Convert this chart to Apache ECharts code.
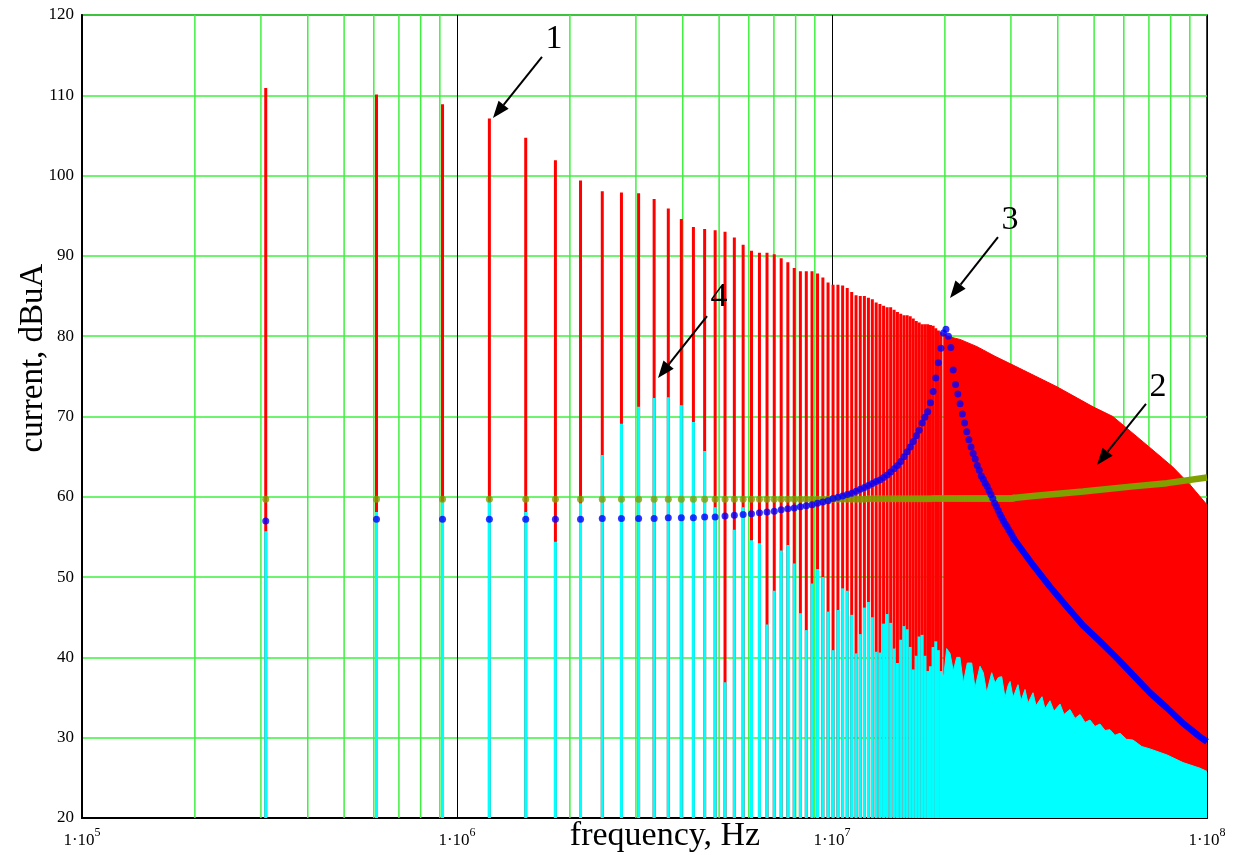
<!DOCTYPE html>
<html><head><meta charset="utf-8">
<script src="https://cdn.jsdelivr.net/npm/echarts@6/dist/echarts.min.js"></script>
<style>html,body{margin:0;padding:0;background:#fff}#c{width:1236px;height:855px}</style>
</head><body><div id="c"></div><script>
// ---------- DATA ----------
// harmonic frequencies, kHz (n = 1..100)
const harmonicKHz = [309,610,915,1220,1525,1830,2135,2440,2745,3050,
 3355,3660,3965,4270,4575,4880,5185,5490,5795,6100,
 6405,6710,7015,7320,7625,7930,8235,8540,8845,9150,
 9455,9760,10065,10370,10675,10980,11285,11590,11895,12200,
 12505,12810,13115,13420,13725,14030,14335,14640,14945,15250,
 15555,15860,16165,16470,16775,17080,17385,17690,17995,18300,
 18605,18910,19215,19520,19825,20130,20435,20740,21045,21350,
 21655,21960,22265,22570,22875,23180,23485,23790,24095,24400,
 24705,25010,25315,25620,25925,26230,26535,26840,27145,27450,
 27755,28060,28365,28670,28975,29280,29585,29890,30195,30500];
// curve 1 (red spectrum), dBuA, n = 1..64
const redLines = [110.9,110.1,108.9,107.1,104.7,101.9,99.4,98.05,97.9,97.8,
 97.1,95.9,94.6,93.6,93.35,93.2,93.0,92.3,91.4,90.65,
 90.4,90.4,90.2,89.7,89.2,88.5,88.1,88.1,88.1,87.8,
 87.3,86.7,86.4,86.4,86.3,86.0,85.5,85.1,85.0,85.0,
 84.8,84.6,84.2,84.0,83.8,83.6,83.6,83.3,83.0,82.8,
 82.6,82.6,82.5,82.2,81.9,81.7,81.5,81.5,81.5,81.4,
 81.3,81.0,80.7,80.5];
// curve 4 (cyan spectrum), dBuA, n = 1..64
const cyanLines = [55.7,58.1,59.4,59.4,58.1,54.4,59.2,65.2,69.1,71.2,
 72.3,72.4,71.4,69.3,65.7,58.7,36.9,55.9,58.7,54.6,
 54.2,44.1,48.3,53.3,54.0,51.7,45.5,43.4,49.2,51.0,
 50.0,45.7,40.9,45.9,48.6,48.3,45.3,40.5,42.9,46.2,
 46.9,45.0,40.7,40.6,44.2,45.4,44.3,41.1,39.3,42.2,
 43.9,43.5,41.3,38.5,40.2,42.6,42.8,40.2,38.3,38.9,
 41.3,42.0,40.9,38.3];
// curve 3 (blue dots), dBuA, n = 1..100
const blueDots = [57.0,57.2,57.2,57.2,57.2,57.2,57.2,57.3,57.3,57.3,
 57.3,57.4,57.4,57.4,57.5,57.5,57.6,57.7,57.8,57.9,
 58.0,58.1,58.2,58.4,58.5,58.6,58.75,58.9,59.0,59.2,
 59.35,59.5,59.8,59.95,60.1,60.3,60.45,60.7,60.95,61.15,
 61.4,61.65,61.9,62.1,62.4,62.7,63.1,63.5,63.9,64.4,
 65.0,65.6,66.2,66.9,67.6,68.3,69.2,69.9,70.6,71.7,
 73.1,74.8,76.7,78.5,80.4,80.85,80.0,78.6,75.8,74.0,
 72.8,71.6,70.3,69.2,68.1,67.1,66.2,65.4,64.7,63.9,
 63.3,62.6,62.2,61.7,61.3,60.8,60.3,59.8,59.2,58.8,
 58.3,57.8,57.4,57.0,56.6,56.3,55.9,55.6,55.2,54.8];
// curve 2 (olive dots), dBuA, n = 1..100
const greenDots = [59.7,59.7,59.7,59.7,59.7,59.7,59.7,59.7,59.7,59.7,
 59.7,59.7,59.7,59.7,59.7,59.7,59.7,59.7,59.7,59.7,
 59.7,59.7,59.7,59.7,59.7,59.7,59.7,59.7,59.7,59.7,
 59.7,59.7,59.7,59.7,59.7,59.7,59.7,59.7,59.7,59.7,
 59.75,59.75,59.75,59.75,59.75,59.75,59.75,59.75,59.75,59.75,
 59.75,59.75,59.75,59.75,59.75,59.75,59.75,59.75,59.75,59.75,
 59.8,59.8,59.8,59.8,59.8,59.8,59.8,59.8,59.8,59.8,
 59.8,59.8,59.8,59.8,59.8,59.8,59.8,59.8,59.8,59.8,
 59.8,59.8,59.8,59.8,59.8,59.8,59.8,59.8,59.8,59.8,
 59.8,59.8,59.8,59.8,59.8,59.8,59.8,59.8,59.8,59.85];
// dense part of curve 1 (merged lines), Hz / dBuA
const redDenseHz = [1.98e7,2.026e7,2.194e7,2.436e7,2.72e7,3.04e7,3.98e7,4.97e7,5.61e7,7.18e7,8.11e7,9.01e7,1e8];
const redDenseDb = [80.4,80.0,79.6,78.7,77.5,76.4,73.7,71.2,70.0,65.8,63.7,61.5,59.0];
// dense part of curve 4, Hz / dBuA
const cyanDenseHz = [1.961e7,1.989e7,2.022e7,2.064e7,2.106e7,2.150e7,2.194e7,2.239e7,2.295e7,2.358e7,
 2.406e7,2.481e7,2.532e7,2.585e7,2.666e7,2.721e7,2.777e7,2.835e7,2.893e7,2.953e7,
 2.984e7,3.04e7,3.133e7,3.192e7,3.271e7,3.332e7,3.436e7,3.499e7,3.631e7,3.698e7,
 3.813e7,3.908e7,4.055e7,4.156e7,4.312e7,4.446e7,4.585e7,4.728e7,4.875e7,5.027e7,
 5.183e7,5.35e7,5.511e7,5.68e7,5.861e7,6.1e7,6.35e7,6.7e7,7.047e7,7.824e7,
 8.63e7,9.58e7,1e8];
const cyanDenseDb = [37.5,37.9,41.1,40.5,38.3,40.0,40.0,36.8,39.3,39.3,
 36.2,38.9,38.1,35.6,38.1,36.8,37.5,37.6,35.0,36.6,
 37.0,35.0,36.6,34.6,36.0,34.3,35.6,34.0,35.1,33.6,
 34.6,33.3,34.2,32.9,33.5,32.4,32.9,31.9,32.2,31.4,
 31.7,30.9,31.0,30.3,30.55,29.8,29.7,28.9,28.6,27.85,
 26.9,26.2,25.8];
// tail of curve 3, Hz / dBuA
const blueTailHz = [3.05e7,3.23e7,3.435e7,3.813e7,4.233e7,4.67e7,5.183e7,5.754e7,6.35e7,7.047e7,7.824e7,8.63e7,9.58e7,1e8];
const blueTailDb = [54.8,53.2,51.5,48.8,46.3,44.0,42.0,39.9,37.8,35.6,33.7,31.8,30.1,29.5];
// tail of curve 2, Hz / dBuA
const greenTailHz = [3.05e7,3.435e7,4.67e7,6.35e7,7.82e7,1e8];
const greenTailDb = [59.85,60.1,60.65,61.3,61.7,62.4];
// minor vertical grid lines, Hz
const minorGridHz = [2e5,3e5,4e5,5e5,6e5,7e5,8e5,9e5,2e6,3e6,4e6,5e6,6e6,7e6,8e6,9e6,2e7,3e7,4e7,5e7,6e7,7e7,8e7,9e7];
// annotations
const noteText = ['1','2','3','4'];
const noteHz = [1.814e6,7.4e7,2.984e7,4.996e6];
const noteDb = [117.0,73.67,94.47,84.9];
const arrowFromHz = [1.685e6,6.876e7,2.771e7,4.642e6];
const arrowFromDb = [114.77,71.56,92.35,82.5];
const arrowToHz = [1.247e6,5.089e7,2.064e7,3.436e6];
const arrowToDb = [107.17,63.96,84.76,74.8];

// ---------- CHART ----------
const SERIF = '"Liberation Serif","Times New Roman",serif';
const GRIDGREEN = '#3ef03e';
const harmonicHz = harmonicKHz.map(k => k * 1000);
const pairs = (xs, ys) => ys.map((v, i) => [xs[i], v]);

function spikes(color) {
  return function (params, api) {
    const f = api.value(0), v = api.value(1);
    const p = api.coord([f, v]);
    const b = api.coord([f, 20]);
    return { type: 'rect', shape: { x: p[0] - 1.5, y: p[1], width: 3, height: b[1] - p[1] }, style: { fill: color } };
  };
}

const chart = echarts.init(document.getElementById('c'), null, { renderer: 'canvas' });
chart.setOption({
  animation: false,
  backgroundColor: '#fff',
  grid: { left: 82, top: 15, width: 1125, height: 803, show: true, borderColor: '#000', borderWidth: 1.5, backgroundColor: 'transparent' },
  xAxis: {
    type: 'log', logBase: 10, min: 1e5, max: 1e8,
    axisLine: { show: true, lineStyle: { color: '#000', width: 2 } },
    axisTick: { show: false },
    splitLine: { show: true, lineStyle: { color: '#000', width: 1 } },
    axisLabel: {
      margin: 9,
      formatter: function (v) { const e = Math.round(Math.log10(v)); return '{b|1·10}{s|' + e + '}'; },
      rich: {
        b: { fontFamily: SERIF, fontSize: 17, color: '#000', lineHeight: 22, verticalAlign: 'bottom' },
        s: { fontFamily: SERIF, fontSize: 12, color: '#000', lineHeight: 22, verticalAlign: 'top' }
      }
    }
  },
  yAxis: {
    type: 'value', min: 20, max: 120, interval: 10,
    axisLine: { show: true, lineStyle: { color: '#000', width: 2 } },
    axisTick: { show: false },
    splitLine: { show: true, lineStyle: { color: GRIDGREEN, width: 1.5 } },
    axisLabel: { margin: 8, fontFamily: SERIF, fontSize: 17, color: '#000' }
  },
  series: [
    { type: 'custom', name: 'grid', z: 1, silent: true, clip: true,
      data: minorGridHz.map(f => [f, 120]),
      renderItem: function (params, api) {
        const f = api.value(0);
        const a = api.coord([f, 20]), b = api.coord([f, 120]);
        return { type: 'line', shape: { x1: a[0], y1: a[1], x2: b[0], y2: b[1] }, style: { stroke: GRIDGREEN, lineWidth: 1.5 } };
      } },
    { type: 'custom', name: 'red', z: 2, clip: true, data: pairs(harmonicHz, redLines), renderItem: spikes('#ff0000') },
    { type: 'line', name: 'redDense', z: 2, data: pairs(redDenseHz, redDenseDb), symbol: 'none',
      lineStyle: { color: '#ff0000', width: 1 }, areaStyle: { color: '#ff0000', opacity: 1, origin: 'start' } },
    { type: 'custom', name: 'cyan', z: 3, clip: true, data: pairs(harmonicHz, cyanLines), renderItem: spikes('#00ffff') },
    { type: 'line', name: 'cyanDense', z: 3, data: pairs(cyanDenseHz, cyanDenseDb), symbol: 'none',
      lineStyle: { color: '#00ffff', width: 1 }, areaStyle: { color: '#00ffff', opacity: 1, origin: 'start' } },
    { type: 'scatter', name: 'green', z: 4, data: pairs(harmonicHz, greenDots), symbol: 'circle', symbolSize: 7,
      itemStyle: { color: '#80a000' } },
    { type: 'line', name: 'greenTail', z: 4, data: pairs(greenTailHz, greenTailDb), symbol: 'none', smooth: false,
      lineStyle: { color: '#80a000', width: 6.5 } },
    { type: 'scatter', name: 'blue', z: 5, data: pairs(harmonicHz, blueDots), symbol: 'circle', symbolSize: 7,
      itemStyle: { color: '#0000ff' } },
    { type: 'line', name: 'blueTail', z: 5, data: pairs(blueTailHz, blueTailDb), symbol: 'none',
      lineStyle: { color: '#0000ff', width: 6.5 } }
  ]
});

// annotations (numbers + arrows), positioned from data coordinates
const els = [];
const toPx = (f, v) => chart.convertToPixel({ xAxisIndex: 0, yAxisIndex: 0 }, [f, v]);
for (let i = 0; i < noteText.length; i++) {
  const t = toPx(noteHz[i], noteDb[i]);
  const a = toPx(arrowFromHz[i], arrowFromDb[i]);
  const b = toPx(arrowToHz[i], arrowToDb[i]);
  const ang = Math.atan2(b[1] - a[1], b[0] - a[0]);
  const L = 17, W = 6.5;
  const bx = b[0] - L * Math.cos(ang), by = b[1] - L * Math.sin(ang);
  const nx = -Math.sin(ang) * W, ny = Math.cos(ang) * W;
  els.push({ type: 'text', x: t[0], y: t[1], z: 100,
    style: { text: noteText[i], fill: '#000', font: '34px ' + SERIF, align: 'center', verticalAlign: 'middle' } });
  els.push({ type: 'line', z: 100, shape: { x1: a[0], y1: a[1], x2: bx, y2: by }, style: { stroke: '#000', lineWidth: 2 } });
  els.push({ type: 'polygon', z: 100, shape: { points: [[b[0], b[1]], [bx + nx, by + ny], [bx - nx, by - ny]] }, style: { fill: '#000' } });
}
els.push({ type: 'text', x: 665, y: 836, z: 100,
  style: { text: 'frequency, Hz', fill: '#000', font: '34px ' + SERIF, align: 'center', verticalAlign: 'middle' } });
els.push({ type: 'text', x: 33, y: 358, rotation: Math.PI / 2, z: 100,
  style: { text: 'current, dBuA', fill: '#000', font: '33px ' + SERIF, align: 'center', verticalAlign: 'middle' } });
chart.setOption({ graphic: { elements: els } });
</script></body></html>
